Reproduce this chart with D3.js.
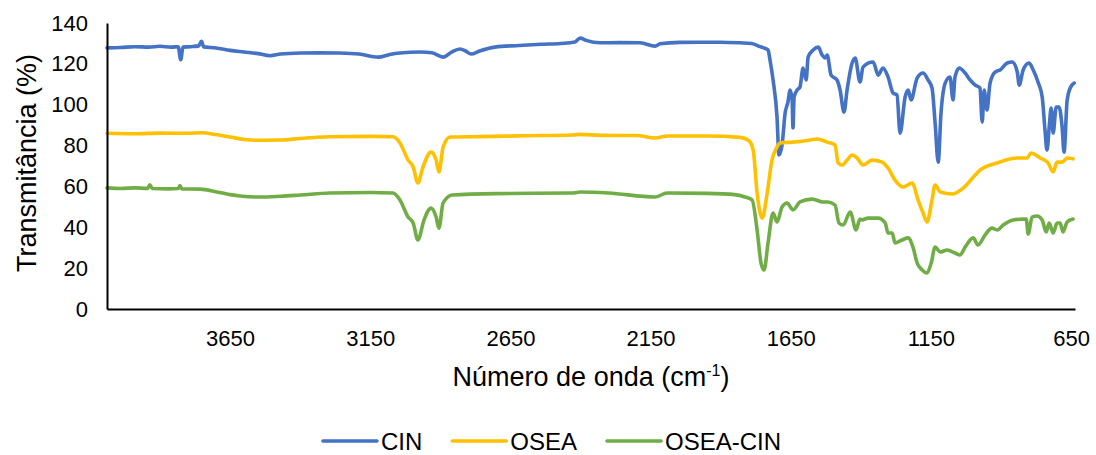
<!DOCTYPE html>
<html>
<head>
<meta charset="utf-8">
<script src="https://cdn.jsdelivr.net/npm/d3@7/dist/d3.min.js"></script>
<style>
  html, body { margin: 0; padding: 0; background: #fff; }
  svg { display: block; font-family: "Liberation Sans", Arial, sans-serif; }
</style>
</head>
<body>
<svg id="chart" width="1096" height="455"></svg>
<script>
// ---- data (wavenumber in cm-1, transmittance in %) ----
const seriesNames = ["CIN", "OSEA", "OSEA-CIN"];
const xTickValues = [3650, 3150, 2650, 2150, 1650, 1150, 650];
const yTickValues = [0, 20, 40, 60, 80, 100, 120, 140];

const cinWn = [4089,4040,3990,3940,3900,3860,3835,3826,3818,3790,3762,3752,3744,3700,3650,3600,3550,3507,3470,3400,3330,3260,3190,3122,3080,3044,2972,2930,2890,2860,2830,2810,2790,2760,2705,2620,2540,2470,2420,2401,2380,2330,2260,2187,2134,2116,2045,1973,1902,1831,1790,1759,1731,1724,1713,1699,1692,1681,1670,1660,1652,1645,1642,1638,1627,1617,1606,1595,1588,1570,1552,1538,1527,1520,1506,1485,1474,1460,1449,1431,1420,1403,1392,1356,1338,1321,1303,1285,1271,1260,1242,1231,1221,1199,1178,1160,1146,1135,1124,1114,1099,1082,1071,1064,1049,1028,1010,992,975,967,960,950,939,921,903,878,860,842,835,821,800,785,768,753,743,736,728,721,714,703,693,682,675,664,653,639];
const cinT = [127.8,128,128.4,128.2,128.6,128.2,128.4,122,128.2,128.4,128.8,131,128.3,127.8,126.6,125.8,125,124,124.8,125.3,125.4,125.3,124.8,123.3,124.6,125.3,125.8,125.4,123.3,125.8,127.3,126.3,124.8,126.3,128.2,129,129.6,130,130.7,132.6,131.5,130.3,130.4,130.3,128.7,129.8,130.5,130.6,130.6,130.3,130,128.4,126.8,121.9,112.1,94.1,75.4,80.3,95.9,101.3,107.2,102.3,88.6,103.8,107.2,108.7,118,112.1,123.3,126.8,128.2,124.3,122.9,124.3,114.5,112.1,107.2,96.4,107.2,120.4,122.9,111.1,118.5,120.9,114.5,118,113.6,105.7,104.7,86.1,103.8,107.2,102.3,113.1,115.5,112.1,108.2,91,71.9,95.9,110.6,113.6,102.3,113.6,118,115.5,112.1,109.6,108.2,91.5,107.2,97.4,110.6,116,117,120.4,120.9,116,109.6,117,120.4,117,111.1,103.8,87.6,77.8,89.1,98.4,86.1,98.9,98.9,89.1,76.8,102.3,108.2,110.6];

const oseaWn = [4089,3990,3900,3800,3750,3700,3650,3600,3550,3470,3400,3293,3150,3069,3044,3015,2997,2980,2962,2933,2915,2905,2890,2865,2758,2600,2427,2401,2330,2200,2134,2090,1950,1831,1800,1784,1770,1752,1734,1717,1700,1688,1642,1590,1556,1520,1492,1481,1467,1449,1431,1413,1392,1360,1324,1303,1278,1249,1217,1196,1178,1164,1146,1135,1117,1074,1035,992,975,914,842,807,793,760,732,714,700,682,664,643];
const oseaT = [86,85.8,86.1,86,86.3,85.4,84.2,83,82.6,82.7,83.5,84.3,84.5,84.3,81.3,72.9,69.5,61.7,69.5,76.8,72.9,67.1,79.3,84.2,84.4,84.8,85.2,85.5,85,84.9,83.7,84.7,84.7,84,82.5,77.8,56.8,44.5,56.8,72.9,79,81.3,81.7,82.5,83.2,81.7,80.3,71.5,70.5,72.9,75.4,73.9,70.5,72.9,71.9,69,63.1,59.7,61.7,53.4,47,42.6,53.4,60.7,57.3,56.3,59.2,65.6,68,71.5,73.9,73.9,76.4,73.9,71.5,67.1,71.9,71.9,73.9,73.5];

const osciWn = [4089,4040,3990,3945,3936,3928,3870,3835,3829,3822,3757,3697,3650,3614,3543,3470,3400,3293,3150,3069,3044,3015,2997,2980,2958,2933,2915,2905,2890,2858,2700,2427,2401,2300,2134,2091,1950,1850,1813,1788,1770,1756,1745,1731,1713,1699,1681,1663,1642,1617,1574,1535,1517,1492,1478,1463,1438,1417,1403,1396,1374,1338,1313,1303,1288,1278,1253,1231,1214,1199,1181,1164,1149,1135,1117,1092,1064,1046,1028,999,982,957,932,914,892,857,821,810,803,789,771,753,739,728,714,700,689,679,664,643];
const osciT = [59.3,59,59.3,59,60.8,59,58.8,59,60.4,58.8,58.7,57.3,56,55.3,54.8,55.2,55.8,56.8,57,56.8,53.4,45,42.1,33.8,43.6,49.4,45,39.6,51.9,55.8,56.5,56.8,57.3,56.8,54.8,56.8,56.6,56,54.8,53.4,38.7,22.5,19.1,32.3,47,42.6,49.9,51.9,48.5,52.4,53.8,52.4,52.4,50.9,42.1,41.1,47.5,38.7,44,43.6,44.5,44.5,42.1,37.2,37.2,32.3,33.8,34.8,30.3,22.5,19.1,17.6,22.5,30.3,27.9,28.9,27.4,26.4,30.3,34.8,31.3,36.2,39.6,38.7,41.1,43.6,44,44,36.7,45,45.5,43.6,37.7,42.1,37.2,42.1,42.1,37.7,42.6,44];

const seriesColors = ["#4472C4", "#FFC000", "#70AD47"];

// ---- build ----
const series = [
  { name: seriesNames[0], color: seriesColors[0], pts: cinWn.map((w, i) => [w, cinT[i]]) },
  { name: seriesNames[1], color: seriesColors[1], pts: oseaWn.map((w, i) => [w, oseaT[i]]) },
  { name: seriesNames[2], color: seriesColors[2], pts: osciWn.map((w, i) => [w, osciT[i]]) }
];

const svg = d3.select("#chart");
const plotL = 107, plotR = 1075, plotT = 23, plotB = 309;

const x = d3.scaleLinear().domain([4089, 636]).range([plotL, plotR]);
const y = d3.scaleLinear().domain([0, 140]).range([plotB, plotT]);

const tickFont = 22, titleFont = 27, legendFont = 24;
const FF = "Liberation Sans, Arial, sans-serif";

// series lines
const line = d3.line().x(d => x(d[0])).y(d => y(d[1])).curve(d3.curveMonotoneX);
svg.append("g").selectAll("path").data(series).join("path")
  .attr("d", d => line(d.pts))
  .attr("fill", "none")
  .attr("stroke", d => d.color)
  .attr("stroke-width", 3.6)
  .attr("stroke-linejoin", "round")
  .attr("stroke-linecap", "round");

// y axis
const yAxis = d3.axisLeft(y).tickValues(yTickValues).tickSize(0).tickPadding(19);
const gy = svg.append("g").attr("transform", `translate(${plotL},0)`).call(yAxis);
gy.select(".domain").attr("stroke", "#000").attr("stroke-width", 2);
gy.selectAll("text").attr("font-size", tickFont).attr("fill", "#000").attr("font-family", FF);

// x axis
const xAxis = d3.axisBottom(x).tickValues(xTickValues).tickSize(0).tickPadding(21).tickFormat(d3.format("d"));
const gx = svg.append("g").attr("transform", `translate(0,${plotB})`).call(xAxis);
gx.select(".domain").attr("stroke", "#000").attr("stroke-width", 2);
gx.selectAll("text").attr("font-size", tickFont).attr("fill", "#000").attr("font-family", FF);

// axis titles
svg.append("text")
  .attr("transform", `translate(36,${(plotT + plotB) / 2 - 3}) rotate(-90)`)
  .attr("text-anchor", "middle")
  .attr("font-size", titleFont).attr("fill", "#000")
  .text("Transmitância (%)");

const xt = svg.append("text")
  .attr("x", (plotL + plotR) / 2).attr("y", 386)
  .attr("text-anchor", "middle")
  .attr("font-size", titleFont).attr("fill", "#000");
xt.append("tspan").text("Número de onda (cm");
xt.append("tspan").attr("font-size", 16).attr("dy", -10).text("-1");
xt.append("tspan").attr("dy", 10).text(")");

// legend
const lg = svg.append("g");
const items = lg.selectAll("g").data(series).join("g");
items.append("line").attr("x1", 0).attr("x2", 54).attr("y1", 0).attr("y2", 0)
  .attr("stroke", d => d.color).attr("stroke-width", 3.6).attr("stroke-linecap", "round");
items.append("text").attr("x", 58).attr("y", 0).attr("dominant-baseline", "central")
  .attr("font-size", legendFont).attr("fill", "#000").text(d => d.name);
let cx = 0;
const gap = 30;
items.each(function () {
  const w = this.getBBox().width;
  d3.select(this).attr("transform", `translate(${cx},0)`);
  cx += w + gap;
});
const total = cx - gap;
lg.attr("transform", `translate(${552 - total / 2},441)`);
</script>
</body>
</html>
